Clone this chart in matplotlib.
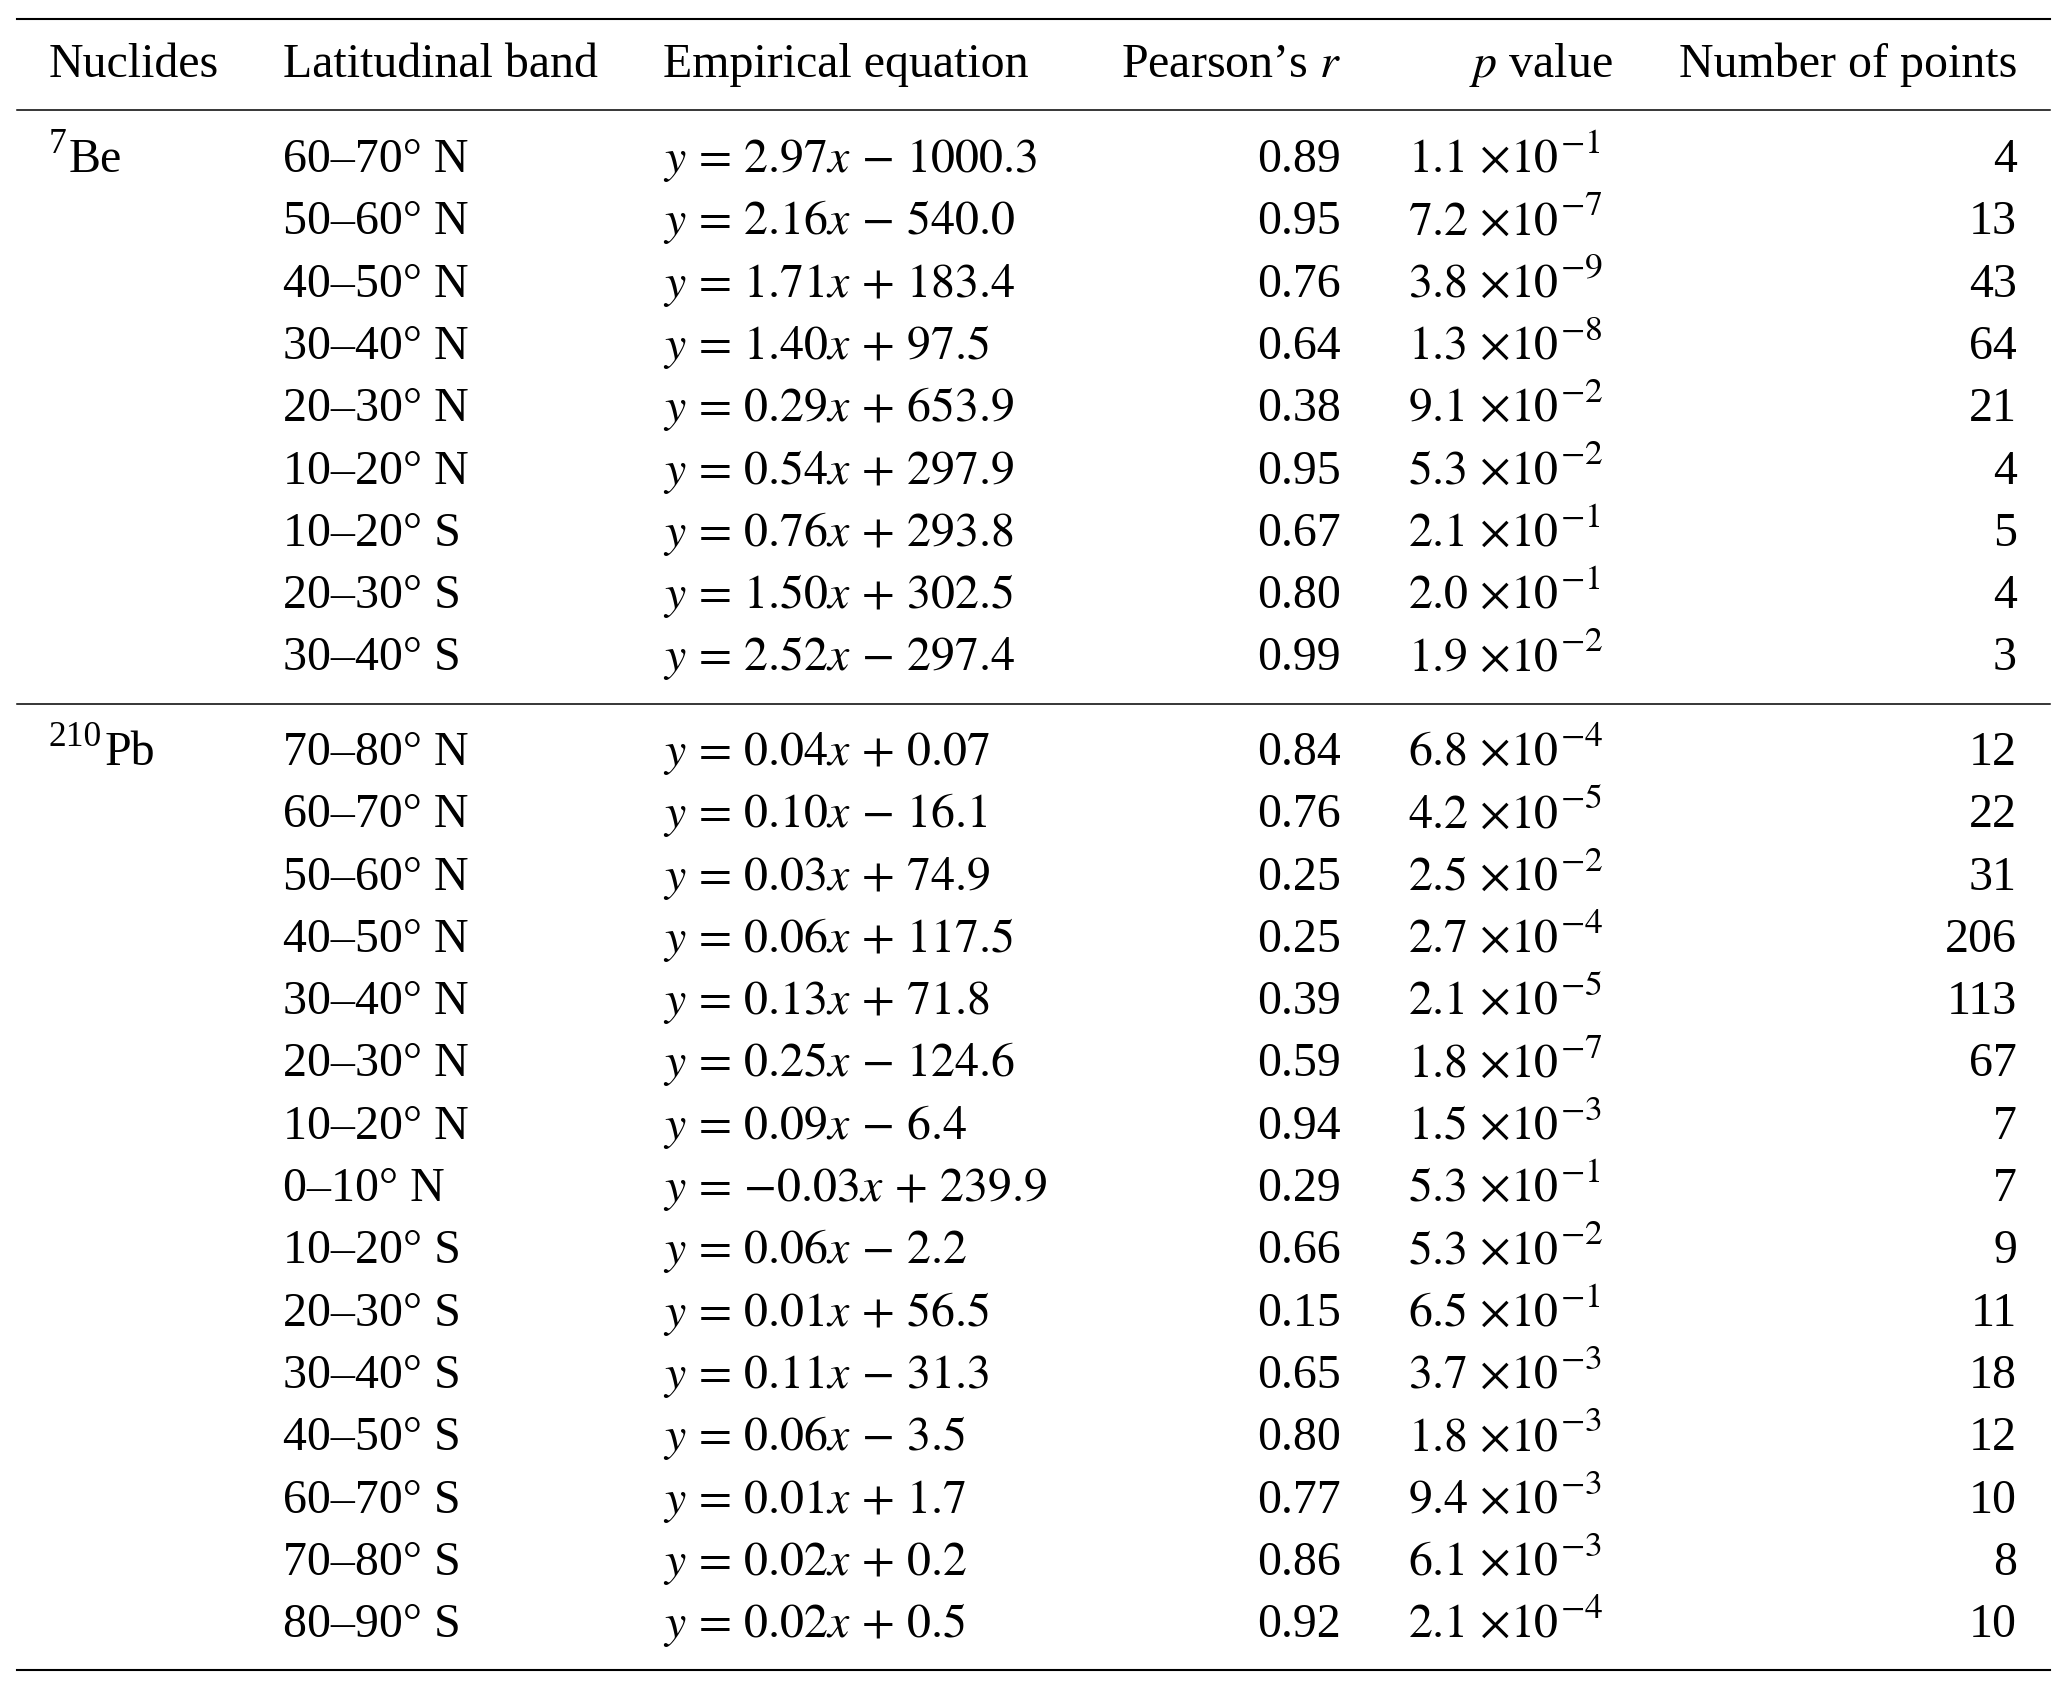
import matplotlib
matplotlib.use("Agg")
import matplotlib.pyplot as plt

plt.rcParams['font.family'] = ['Liberation Serif', 'DejaVu Serif']
plt.rcParams['mathtext.fontset'] = 'stix'

# table data
headers = ["Nuclides", "Latitudinal band", "Empirical equation",
           "Pearson\u2019s $r$", "$p$ value", "Number of points"]

be_bands = ["60\u201370\u00b0 N", "50\u201360\u00b0 N", "40\u201350\u00b0 N", "30\u201340\u00b0 N",
            "20\u201330\u00b0 N", "10\u201320\u00b0 N", "10\u201320\u00b0 S", "20\u201330\u00b0 S",
            "30\u201340\u00b0 S"]
be_slope = ["2.97", "2.16", "1.71", "1.40", "0.29", "0.54", "0.76", "1.50", "2.52"]
be_icpt = ["-1000.3", "-540.0", "+183.4", "+97.5", "+653.9", "+297.9", "+293.8", "+302.5", "-297.4"]
be_r = ["0.89", "0.95", "0.76", "0.64", "0.38", "0.95", "0.67", "0.80", "0.99"]
be_pm = ["1.1", "7.2", "3.8", "1.3", "9.1", "5.3", "2.1", "2.0", "1.9"]
be_pe = [-1, -7, -9, -8, -2, -2, -1, -1, -2]
be_n = [4, 13, 43, 64, 21, 4, 5, 4, 3]

pb_bands = ["70\u201380\u00b0 N", "60\u201370\u00b0 N", "50\u201360\u00b0 N", "40\u201350\u00b0 N",
            "30\u201340\u00b0 N", "20\u201330\u00b0 N", "10\u201320\u00b0 N", "0\u201310\u00b0 N",
            "10\u201320\u00b0 S", "20\u201330\u00b0 S", "30\u201340\u00b0 S", "40\u201350\u00b0 S",
            "60\u201370\u00b0 S", "70\u201380\u00b0 S", "80\u201390\u00b0 S"]
pb_slope = ["0.04", "0.10", "0.03", "0.06", "0.13", "0.25", "0.09", "-0.03",
            "0.06", "0.01", "0.11", "0.06", "0.01", "0.02", "0.02"]
pb_icpt = ["+0.07", "-16.1", "+74.9", "+117.5", "+71.8", "-124.6", "-6.4", "+239.9",
           "-2.2", "+56.5", "-31.3", "-3.5", "+1.7", "+0.2", "+0.5"]
pb_r = ["0.84", "0.76", "0.25", "0.25", "0.39", "0.59", "0.94", "0.29",
        "0.66", "0.15", "0.65", "0.80", "0.77", "0.86", "0.92"]
pb_pm = ["6.8", "4.2", "2.5", "2.7", "2.1", "1.8", "1.5", "5.3",
         "5.3", "6.5", "3.7", "1.8", "9.4", "6.1", "2.1"]
pb_pe = [-4, -5, -2, -4, -5, -7, -3, -1, -2, -1, -3, -3, -3, -3, -4]
pb_n = [12, 22, 31, 206, 113, 67, 7, 7, 9, 11, 18, 12, 10, 8, 10]

W, H = 2067, 1691
fig = plt.figure(figsize=(W / 100, H / 100), dpi=100)
ax = fig.add_axes([0, 0, 1, 1])
ax.set_xlim(0, W)
ax.set_ylim(H, 0)
ax.axis('off')
renderer = fig.canvas.get_renderer()

fs = 34.5
x_nuc, x_band, x_eq, x_r, x_p, x_phead, x_n = 49, 283, 663, 1341, 1408, 1613, 2017
left, right = 17, 2050
row_h = 62.3


def eq_text(s, c):
    sign = '-' if c.startswith('-') else '+'
    return r'$y\,=\,{%s}x\,%s\,%s$' % (s, sign, c[1:])


def put(x, y, s, ha='left', size=fs):
    return ax.text(x, y, s, fontsize=size, ha=ha, va='baseline')


def put_pvalue(x, y, m, e):
    t = put(x, y, r'$%s\ {\times}10$' % m)
    x1 = t.get_window_extent(renderer).x1
    put(x1 + 1, y - 19, r'$%d$' % e, size=fs * 0.74)


def put_nuclide(x, y, mass, elem):
    t = put(x, y - 19, mass, size=fs * 0.74)
    x1 = t.get_window_extent(renderer).x1
    put(x1 + 2, y, elem)


def draw_rows(y0, mass, elem, bands, slope, icpt, r, pm, pe, n):
    put_nuclide(x_nuc, y0, mass, elem)
    for i in range(len(bands)):
        y = y0 + i * row_h
        put(x_band, y, bands[i])
        put(x_eq, y, eq_text(slope[i], icpt[i]))
        put(x_r, y, r[i], ha='right')
        put_pvalue(x_p, y, pm[i], pe[i])
        put(x_n, y, str(n[i]), ha='right')


# header
hy = 77
put(x_nuc, hy, headers[0])
put(x_band, hy, headers[1])
put(x_eq, hy, headers[2])
put(x_r, hy, headers[3], ha='right')
put(x_phead, hy, headers[4], ha='right')
put(x_n, hy, headers[5], ha='right')

draw_rows(172, "7", "Be", be_bands, be_slope, be_icpt, be_r, be_pm, be_pe, be_n)
draw_rows(765, "210", "Pb", pb_bands, pb_slope, pb_icpt, pb_r, pb_pm, pb_pe, pb_n)

# rules
ax.plot([left, right], [19, 19], color='black', lw=1.5)
ax.plot([left, right], [110, 110], color='black', lw=1.1)
ax.plot([left, right], [704, 704], color='black', lw=1.1)
ax.plot([left, right], [1670, 1670], color='black', lw=1.5)

fig.savefig('out.png', dpi=100)
